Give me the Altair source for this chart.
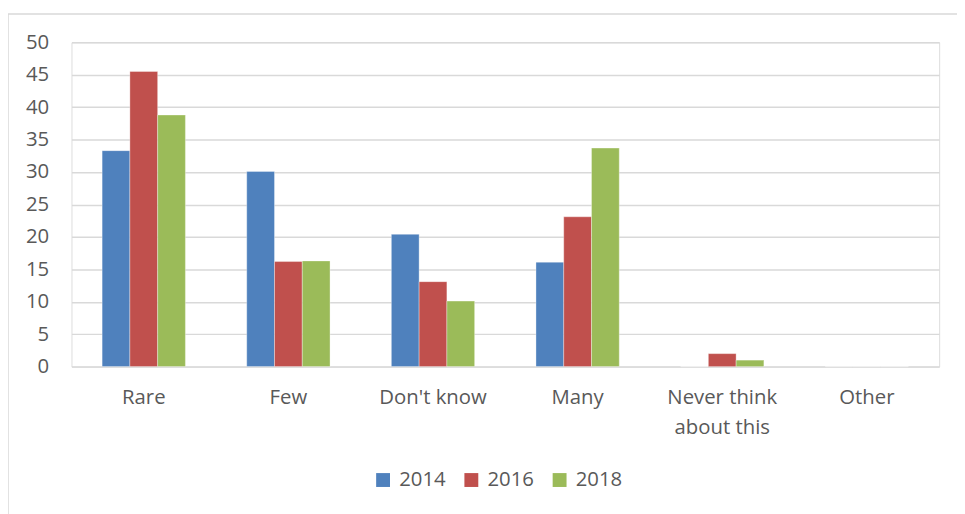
import altair as alt
import pandas as pd

categories = ["Rare", "Few", "Don't know", "Many", "Never think about this", "Other"]
years = ["2014", "2016", "2018"]
v2014 = [33.3, 30.1, 20.4, 16.1, 0.0, 0.0]
v2016 = [45.5, 16.2, 13.1, 23.1, 2.0, 0.0]
v2018 = [38.8, 16.3, 10.1, 33.7, 1.0, 0.0]
colors = ["#4F81BD", "#C0504D", "#9BBB59"]

rows = []
for yr, vals in zip(years, [v2014, v2016, v2018]):
    for c, v in zip(categories, vals):
        rows.append({"category": c, "year": yr, "value": v})
df = pd.DataFrame(rows)

FONT = "Open Sans"
TXT = "#595959"
GRID = "#d9d9d9"

bars = alt.Chart(df).mark_bar(stroke="white", strokeOpacity=0.35, strokeWidth=1).encode(
    x=alt.X("category:N", sort=categories, title=None,
            scale=alt.Scale(paddingInner=0.424, paddingOuter=0.212),
            axis=alt.Axis(labelAngle=0, ticks=False, domain=False, grid=False,
                          labelPadding=21, labelFontSize=20.5, labelFont=FONT,
                          labelColor=TXT, labelBaseline="top", labelLineHeight=30,
                          labelExpr="datum.value == 'Never think about this' ? ['Never think', 'about this'] : datum.value")),
    xOffset=alt.XOffset("year:N", sort=years, scale=alt.Scale(paddingInner=0, paddingOuter=0)),
    y=alt.Y("value:Q", title=None,
            scale=alt.Scale(domain=[0, 50], nice=False),
            axis=alt.Axis(values=list(range(0, 51, 5)), ticks=False, domain=False,
                          grid=True, gridColor=GRID, gridWidth=1.5,
                          labelPadding=23, labelFontSize=20.5, labelFont=FONT,
                          labelColor=TXT)),
    color=alt.Color("year:N", sort=years,
                    scale=alt.Scale(domain=years, range=colors),
                    legend=alt.Legend(title=None, orient="none", direction="horizontal",
                                      legendX=304, legendY=431,
                                      symbolType="square", symbolSize=196,
                                      symbolStrokeWidth=0, labelOffset=6,
                                      columnPadding=15, labelFontSize=20.5,
                                      labelFont=FONT, labelColor=TXT)),
)

border = alt.Chart(pd.DataFrame({"a": [0]})).mark_rect(
    fill=None, stroke=GRID, strokeWidth=1.5, clip=False
).encode(
    x=alt.value(-64), x2=alt.value(1000),
    y=alt.value(-28.5), y2=alt.value(600),
)

chart = alt.layer(border, bars).properties(
    width=875, height=327,
    autosize=alt.AutoSizeParams(type="none"),
    padding={"left": 64, "top": 32.5, "right": 18, "bottom": 146},
).configure_view(stroke=None).configure(background="white")

chart.save("out.html", embed_options={"renderer": "svg", "actions": False})
